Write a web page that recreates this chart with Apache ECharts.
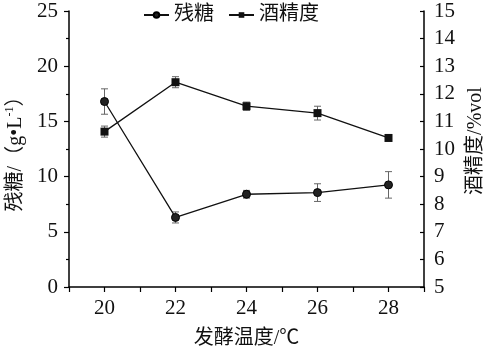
<!DOCTYPE html>
<html><head><meta charset="utf-8">
<script src="https://cdn.jsdelivr.net/npm/echarts@6/dist/echarts.min.js"></script>
<style>html,body{margin:0;padding:0;background:#fff}#c{width:490px;height:353px}</style>
</head><body><div id="c"></div>
<script>
const temps = [20, 22, 24, 26, 28];
const sugar = [16.8, 6.3, 8.4, 8.55, 9.25];
const sugarErr = [1.15, 0.5, 0.35, 0.8, 1.2];
const alcohol = [10.63, 12.42, 11.55, 11.3, 10.4];
const alcoholErr = [0.2, 0.2, 0.15, 0.25, 0.1];
const leftTicks = [0, 5, 10, 15, 20, 25];
const rightTicks = [5, 6, 7, 8, 9, 10, 11, 12, 13, 14, 15];

const serif = '"Liberation Serif","Noto Sans CJK SC",serif';
const cjk = '"Liberation Serif","Noto Sans CJK SC",serif';

function errSeries(vals, errs, axisIdx) {
  return {
    type: 'custom', yAxisIndex: axisIdx, silent: true, z: 1,
    data: temps.map((t, i) => [t, vals[i] - errs[i], vals[i] + errs[i]]),
    renderItem: function (params, api) {
      const lo = api.coord([api.value(0), api.value(1)]);
      const hi = api.coord([api.value(0), api.value(2)]);
      const w = 3.5;
      const st = { stroke: '#666', lineWidth: 1 };
      return { type: 'group', children: [
        { type: 'line', shape: { x1: lo[0], y1: lo[1], x2: hi[0], y2: hi[1] }, style: st },
        { type: 'line', shape: { x1: lo[0] - w, y1: lo[1], x2: lo[0] + w, y2: lo[1] }, style: st },
        { type: 'line', shape: { x1: hi[0] - w, y1: hi[1], x2: hi[0] + w, y2: hi[1] }, style: st }
      ]};
    }
  };
}

const chart = echarts.init(document.getElementById('c'));
chart.setOption({
  animation: false,
  backgroundColor: '#fff',
  grid: { left: 69, right: 66, top: 11, bottom: 66, containLabel: false, outerBoundsMode: 'none' },
  legend: {
    top: 0, left: 138, itemGap: 14, itemWidth: 25, itemHeight: 7,
    textStyle: { fontFamily: cjk, fontSize: 20, color: '#111' },
    data: ['残糖', '酒精度']
  },
  xAxis: {
    type: 'value', min: 19, max: 29, interval: 1,
    name: '发酵温度/℃', nameLocation: 'middle', nameGap: 42,
    nameTextStyle: { fontFamily: cjk, fontSize: 20, color: '#111' },
    axisLine: { lineStyle: { color: '#000', width: 1.5 } },
    axisTick: { lineStyle: { color: '#000', width: 1.2 }, length: 5 },
    axisLabel: { fontFamily: serif, fontSize: 21, color: '#111', margin: 11,
      formatter: v => (v % 2 === 0 ? String(v) : '') },
    splitLine: { show: false }
  },
  yAxis: [{
    type: 'value', min: 0, max: 25, interval: 5, position: 'left',
    name: '{a|残糖/（g•L}{s|-1}{a|）}', nameLocation: 'middle', nameGap: 42, nameRotate: 90,
    nameTextStyle: { rich: {
      a: { fontFamily: cjk, fontSize: 20, lineHeight: 22, color: '#111', verticalAlign: 'bottom' },
      s: { fontFamily: serif, fontSize: 12, lineHeight: 12, color: '#111', verticalAlign: 'top' }
    } },
    axisLine: { show: true, lineStyle: { color: '#000', width: 1.5 } },
    axisTick: { show: true, lineStyle: { color: '#000', width: 1.2 }, length: 5 },
    minorTick: { show: true, splitNumber: 2, length: 3, lineStyle: { color: '#000', width: 1.2 } },
    axisLabel: { fontFamily: serif, fontSize: 21, color: '#111', margin: 11,
      formatter: v => (leftTicks.includes(v) ? String(v) : '') },
    splitLine: { show: false }
  }, {
    type: 'value', min: 5, max: 15, interval: 1, position: 'right',
    name: '酒精度/%vol', nameLocation: 'middle', nameGap: 42, nameRotate: 90,
    nameTextStyle: { fontFamily: cjk, fontSize: 20, color: '#111', padding: [0, 0, 0, 16] },
    axisLine: { show: true, lineStyle: { color: '#000', width: 1.5 } },
    axisTick: { show: true, inside: true, lineStyle: { color: '#000', width: 1.2 }, length: 4 },
    axisLabel: { fontFamily: serif, fontSize: 21, color: '#111', margin: 10,
      formatter: v => (rightTicks.includes(v) ? String(v) : '') },
    splitLine: { show: false }
  }],
  series: [
    errSeries(sugar, sugarErr, 0),
    errSeries(alcohol, alcoholErr, 1),
    {
      name: '残糖', type: 'line', yAxisIndex: 0, z: 3,
      data: temps.map((t, i) => [t, sugar[i]]),
      symbol: 'circle', symbolSize: 8,
      lineStyle: { color: '#111', width: 1.3 },
      itemStyle: { color: '#222', borderColor: '#000', borderWidth: 1 }
    },
    {
      name: '酒精度', type: 'line', yAxisIndex: 1, z: 3,
      data: temps.map((t, i) => [t, alcohol[i]]),
      symbol: 'rect', symbolSize: 8,
      lineStyle: { color: '#111', width: 1.3 },
      itemStyle: { color: '#111' }
    }
  ]
});
</script></body></html>
